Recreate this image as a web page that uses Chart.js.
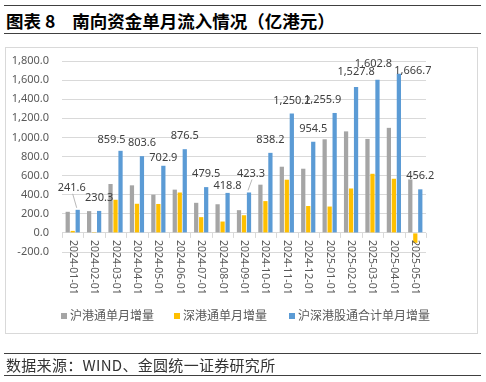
<!DOCTYPE html>
<html><head><meta charset="utf-8">
<script src="https://cdn.jsdelivr.net/npm/chart.js@4"></script>
<style>
html,body{margin:0;padding:0;background:#fff;}
body{width:486px;height:382px;position:relative;overflow:hidden;font-family:"Noto Sans CJK SC","Noto Sans",sans-serif;}
.hl{position:absolute;left:4px;width:477px;height:1px;background:#404040;}
#title{position:absolute;left:6px;top:10px;font-size:17.5px;font-weight:bold;color:#000;line-height:21px;white-space:pre;}
#box{position:absolute;left:5px;top:47px;width:473px;height:287px;border:1px solid #D9D9D9;box-sizing:border-box;}
#chartwrap{position:absolute;left:0;top:0;width:486px;height:382px;}
.leg{position:absolute;top:307px;font-size:12px;color:#595959;line-height:16px;white-space:nowrap;}
.leg i{display:inline-block;width:6px;height:6px;margin-right:3px;vertical-align:1px;}
#foot{position:absolute;left:6px;top:356px;font-size:15px;color:#333;line-height:18px;letter-spacing:0.3px;white-space:nowrap;}
</style>
</head><body>
<div class="hl" style="top:5px"></div>
<div id="title"><span>图表 8</span><span style="margin-left:17px">南向资金单月流入情况（亿港元）</span></div>
<div class="hl" style="top:33px"></div>
<div id="box"></div>
<div id="chartwrap"><canvas id="c"></canvas></div>
<div class="leg" style="left:61px"><i style="background:#A5A5A5"></i>沪港通单月增量</div>
<div class="leg" style="left:174px"><i style="background:#FFC000"></i>深港通单月增量</div>
<div class="leg" style="left:289px"><i style="background:#5B9BD5"></i>沪深港股通合计单月增量</div>
<div class="hl" style="top:353px"></div>
<div id="foot">数据来源：WIND、金圆统一证券研究所</div>
<div class="hl" style="top:375px"></div>
<script>
// ---- data ----
const categories = ['2024-01-01','2024-02-01','2024-03-01','2024-04-01','2024-05-01','2024-06-01','2024-07-01','2024-08-01','2024-09-01','2024-10-01','2024-11-01','2024-12-01','2025-01-01','2025-02-01','2025-03-01','2025-04-01','2025-05-01'];
const seriesNames = ['沪港通单月增量','深港通单月增量','沪深港股通合计单月增量'];
const shMonthly = [221, 228, 512, 498, 400, 453, 315, 300, 238, 505, 693, 672, 980, 1063, 984, 1100, 560];
const szMonthly = [21, 2, 347, 305, 303, 423, 165, 119, 185, 333, 557, 282, 276, 465, 619, 567, -104];
const totalMonthly = [241.6, 230.3, 859.5, 803.6, 702.9, 876.5, 479.5, 418.8, 423.3, 838.2, 1250.2, 954.5, 1255.9, 1527.8, 1602.8, 1666.7, 456.2];
const yTicks = [-200, 0, 200, 400, 600, 800, 1000, 1200, 1400, 1600, 1800];
// label nudges (style only): [dx, dy]
const labelNudge = [[-6,-9],[0,0],[-9,2],[0,0],[0,5],[0,0],[0,0],[0,6],[2,-6],[0,0],[0,0],[0,0],[-12,0],[0,-2],[-4,-3],[14,10],[0,0]];

const fmt = v => v.toLocaleString('en-US',{minimumFractionDigits:1,maximumFractionDigits:1});

const customDraw = {
  id:'customDraw',
  afterDatasetsDraw(chart){
    const ctx = chart.ctx, xs = chart.scales.x, ys = chart.scales.y;
    const y0 = ys.getPixelForValue(0);
    ctx.save();
    ctx.strokeStyle = '#D9D9D9'; ctx.lineWidth = 1;
    ctx.beginPath();
    for(let i=0;i<=categories.length;i++){
      const x = Math.round(xs.getPixelForValue(i-0.5))+0.5;
      ctx.moveTo(x, y0); ctx.lineTo(x, y0+5);
    }
    ctx.stroke();
    ctx.fillStyle = '#595959';
    ctx.font = '10.5px "Noto Sans", sans-serif';
    ctx.textAlign = 'left'; ctx.textBaseline = 'middle';
    categories.forEach((c,i)=>{
      const x = xs.getPixelForValue(i);
      ctx.save(); ctx.translate(x, y0+7); ctx.rotate(Math.PI/2);
      ctx.fillText(c, 0, 0); ctx.restore();
    });
    const meta = chart.getDatasetMeta(2);
    ctx.font = '11px "Noto Sans", sans-serif';
    ctx.fillStyle = '#404040';
    ctx.textAlign = 'center'; ctx.textBaseline = 'middle';
    meta.data.forEach((el,i)=>{
      const [dx,dy] = labelNudge[i];
      const lx = el.x+dx, ly = el.y-13+dy;
      ctx.fillText(fmt(totalMonthly[i]), lx, ly);
      if(dy<=-5){
        ctx.strokeStyle = '#A6A6A6'; ctx.lineWidth = 0.8;
        ctx.beginPath(); ctx.moveTo(lx+1, ly+6); ctx.lineTo(el.x-1, el.y-2); ctx.stroke();
      }
    });
    ctx.restore();
  }
};

new Chart(document.getElementById('c'), {
  type:'bar',
  data:{
    labels: categories,
    datasets:[
      {label:seriesNames[0], data:shMonthly, backgroundColor:'#A5A5A5'},
      {label:seriesNames[1], data:szMonthly, backgroundColor:'#FFC000'},
      {label:seriesNames[2], data:totalMonthly, backgroundColor:'#5B9BD5'}
    ]
  },
  options:{
    responsive:true, maintainAspectRatio:false, animation:false,
    datasets:{bar:{categoryPercentage:0.7, barPercentage:0.85}},
    layout:{padding:{left:0, top:61, right:60, bottom:130}},
    plugins:{legend:{display:false}, tooltip:{enabled:false}},
    scales:{
      x:{offset:true, grid:{display:false}, border:{display:false}, ticks:{display:false},
         afterFit(s){ s.height = 0; }},
      y:{min:-200, max:1800,
         afterBuildTicks(s){ s.ticks = yTicks.map(v=>({value:v})); },
         grid:{color:'#D9D9D9', drawTicks:false, lineWidth:1},
         border:{display:false},
         ticks:{padding:13, color:'#595959', font:{family:'"Noto Sans", sans-serif', size:11}, callback:v=>fmt(v)},
         afterFit(s){ s.width = 62; }}
    }
  },
  plugins:[customDraw]
});
</script>
</body></html>
